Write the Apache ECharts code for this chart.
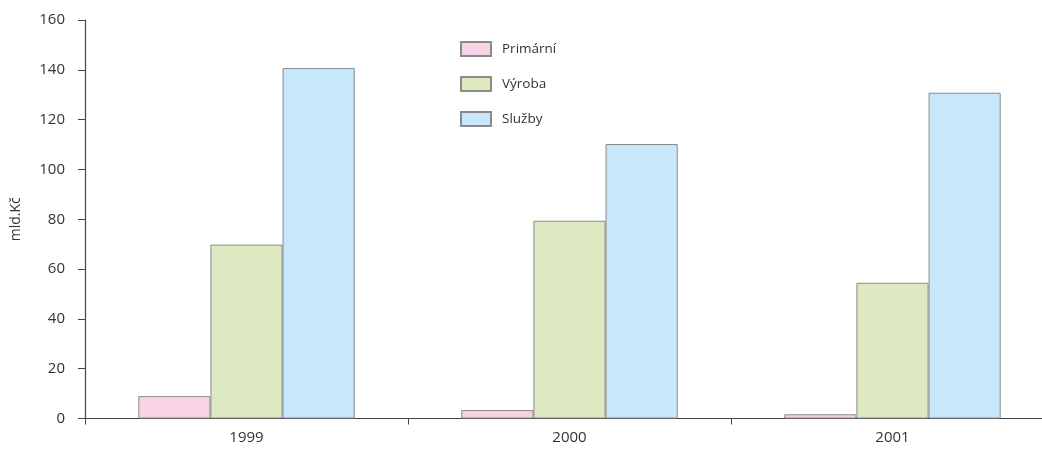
<!DOCTYPE html>
<html><head><meta charset="utf-8">
<script src="https://cdn.jsdelivr.net/npm/echarts@6/dist/echarts.min.js"></script>
<style>html,body{margin:0;padding:0;background:#fff;overflow:hidden;width:1042px;height:456px}#c{width:1054px;height:456px}</style>
</head><body><div id="c"></div>
<script>
const categories = ['1999', '2000', '2001'];
const primarni = [9.0, 3.4, 1.7];
const vyroba = [69.8, 79.4, 54.5];
const sluzby = [140.7, 110.2, 130.8];
const yTicks = [0, 20, 40, 60, 80, 100, 120, 140, 160];

const font = 'Open Sans';
const chart = echarts.init(document.getElementById('c'));
const mk = (name, data, color) => ({
  name, type: 'bar', data, barGap: '0%', barCategoryGap: '33%',
  itemStyle: { color, borderColor: '#8a8a8a', borderWidth: 1 }
});
chart.setOption({
  animation: false,
  textStyle: { fontFamily: font },
  grid: { left: 85, top: 20, right: 0, height: 398.5 },
  legend: {
    orient: 'vertical', left: 455, top: 36, itemWidth: 30, itemHeight: 14, itemGap: 19,
    icon: 'rect',
    textStyle: { fontFamily: font, fontSize: 13.5, color: '#333', padding: [0, 0, 0, 6] },
    data: ['Primární', 'Výroba', 'Služby']
  },
  xAxis: {
    type: 'category', data: categories,
    axisLine: { lineStyle: { color: '#444', width: 1.2 } },
    axisTick: { show: true, length: 6, lineStyle: { color: '#444' } },
    axisLabel: { fontFamily: font, fontSize: 15, color: '#333', margin: 12 }
  },
  yAxis: {
    type: 'value', min: yTicks[0], max: yTicks[yTicks.length - 1], interval: 20,
    name: 'mld.Kč', nameLocation: 'middle', nameGap: 62, nameRotate: 90,
    nameTextStyle: { fontFamily: font, fontSize: 14, color: '#333' },
    splitLine: { show: false },
    axisLine: { show: true, lineStyle: { color: '#444', width: 1.2 } },
    axisTick: { show: true, length: 7, lineStyle: { color: '#444' } },
    axisLabel: { fontFamily: font, fontSize: 15, color: '#333', margin: 20 }
  },
  series: [
    mk('Primární', primarni, '#f8d3e5'),
    mk('Výroba', vyroba, '#dce9c1'),
    mk('Služby', sluzby, '#c7e7fa')
  ]
});
</script></body></html>
